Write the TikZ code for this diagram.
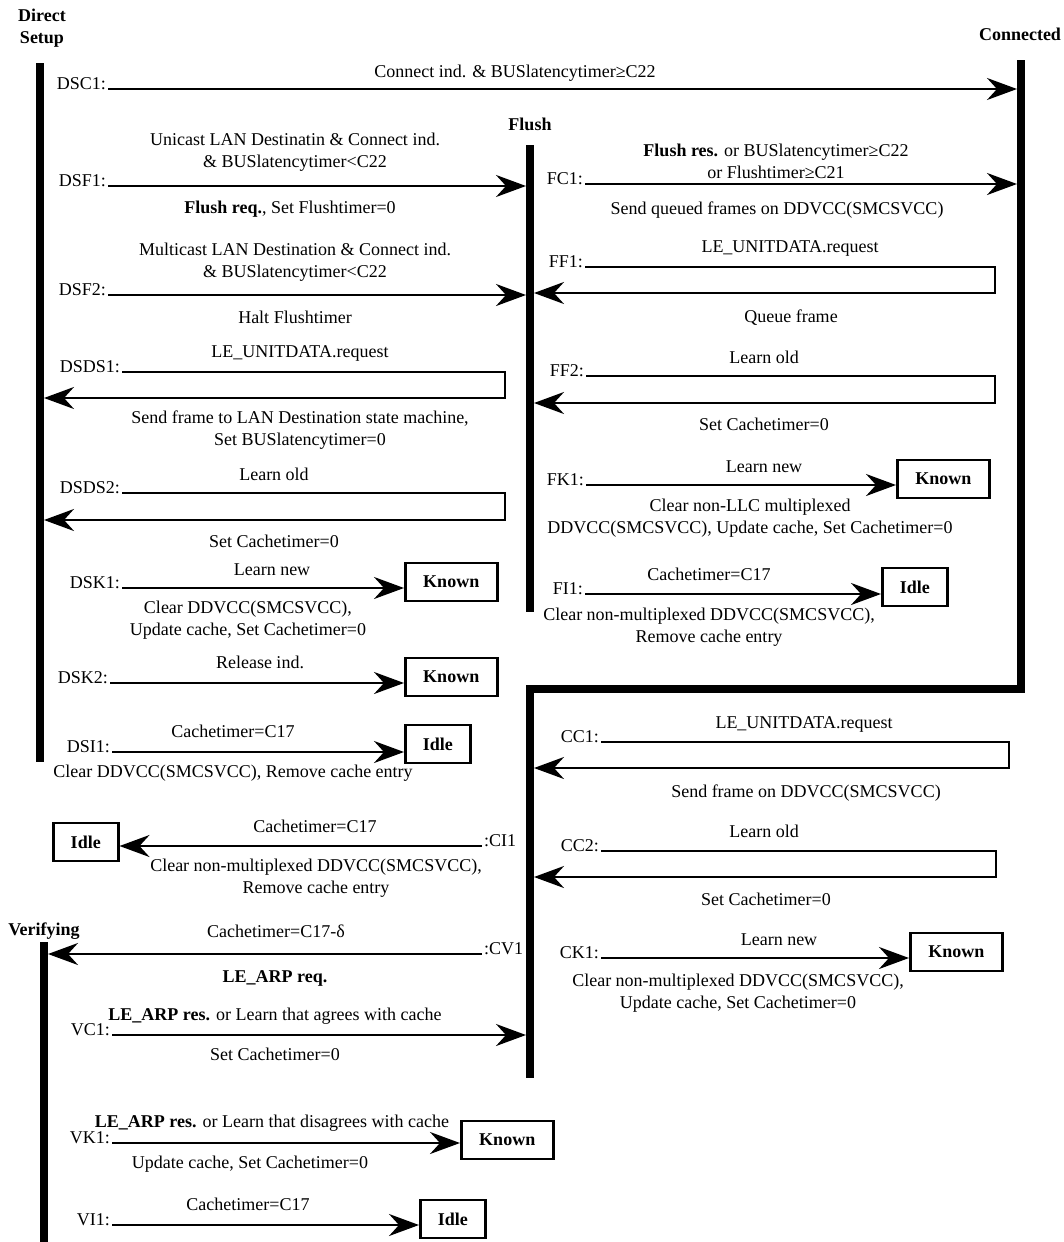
\documentclass[tikz,border=0pt]{standalone}
\usepackage{fontspec}
\setmainfont{Liberation Serif}
\usetikzlibrary{arrows.meta}

\newcommand\diagfont{\fontsize{18}{21.5}\selectfont}

\tikzset{
  statebar/.style={line width=8pt, line join=miter},
  trans/.style={line width=2.5pt, line join=miter, -{Stealth[length=30pt,width=22pt,inset=10pt]}},
  translbl/.style={anchor=base east, inner sep=2pt},
  endlbl/.style={anchor=base west, inner sep=2pt},
  note/.style={anchor=base, align=center, inner sep=0pt},
  statename/.style={font=\diagfont\bfseries, anchor=base, align=center, inner sep=0pt},
  known/.style={draw, line width=2.5pt, font=\diagfont\bfseries, minimum width=92pt, minimum height=38pt, anchor=west},
  idle/.style={draw, line width=2.5pt, font=\diagfont\bfseries, minimum width=65pt, minimum height=38pt, anchor=west}
}

\begin{document}
\begin{tikzpicture}[x=1pt, y=-1pt, font=\diagfont]%
\useasboundingbox (0,0) rectangle (1064,1242);%
% state bars
\coordinate (dsTop) at (40,63);%
\coordinate (dsBot) at (40,762);%
\coordinate (cnTop) at (1021,60);%
\coordinate (cnBend) at (1021,689);%
\coordinate (ccBend) at (530,689);%
\coordinate (ccBot) at (530,1078);%
\coordinate (flTop) at (530,145);%
\coordinate (flBot) at (530,612);%
\coordinate (vfTop) at (44,942);%
\coordinate (vfBot) at (44,1242);%
\draw[statebar] (dsTop) -- (dsBot);%
\draw[statebar] (cnTop) -- (cnBend) -- (ccBend) -- (ccBot);%
\draw[statebar] (flTop) -- (flBot);%
\draw[statebar] (vfTop) -- (vfBot);%
% bar edges where arrows end
\coordinate (dsEdge) at (44,0);%
\coordinate (cnEdge) at (1017,0);%
\coordinate (flEdgeL) at (526,0);%
\coordinate (flEdgeR) at (534,0);%
\coordinate (vfEdge) at (48,0);%
\node[statename] (dsName) at (42,43) {Direct\\Setup};%
\node[statename] (cnName) at (1020,40) {Connected};%
\node[statename] (flName) at (530,130) {Flush};%
\node[statename] (vfName) at (44,935) {Verifying};%
% Direct Setup
\node[translbl] (dsc1) at (108,89) {DSC1:};%
\draw[trans] (dsc1.base east) -- (dsc1.base east -| cnEdge);%
\node[note] at (515,77) {Connect ind. \& BUSlatencytimer≥C22};%
\node[translbl] (dsf1) at (108,186) {DSF1:};%
\draw[trans] (dsf1.base east) -- (dsf1.base east -| flEdgeL);%
\node[note] at (295,167) {Unicast LAN Destinatin \& Connect ind.\\\& BUSlatencytimer<C22};%
\node[note] at (290,213) {\textbf{Flush req.}, Set Flushtimer=0};%
\node[translbl] (dsf2) at (108,295) {DSF2:};%
\draw[trans] (dsf2.base east) -- (dsf2.base east -| flEdgeL);%
\node[note] at (295,277) {Multicast LAN Destination \& Connect ind.\\\& BUSlatencytimer<C22};%
\node[note] at (295,323) {Halt Flushtimer};%
\node[translbl] (dsds1) at (122,372) {DSDS1:};%
\coordinate (dsds1Turn) at (505,372);%
\coordinate (dsds1Back) at (505,398);%
\draw[trans] (dsds1.base east) -- (dsds1Turn) -- (dsds1Back) -- (dsds1Back -| dsEdge);%
\node[note] at (300,357) {LE\_UNITDATA.request};%
\node[note] at (300,445) {Send frame to LAN Destination state machine,\\Set BUSlatencytimer=0};%
\node[translbl] (dsds2) at (122,493) {DSDS2:};%
\coordinate (dsds2Turn) at (505,493);%
\coordinate (dsds2Back) at (505,520);%
\draw[trans] (dsds2.base east) -- (dsds2Turn) -- (dsds2Back) -- (dsds2Back -| dsEdge);%
\node[note] at (274,480) {Learn old};%
\node[note] at (274,547) {Set Cachetimer=0};%
\node[translbl] (dsk1) at (122,588) {DSK1:};%
\node[known] (dsk1Known) at (404,582) {Known};%
\draw[trans] (dsk1.base east) -- (dsk1.base east -| dsk1Known.west);%
\node[note] at (272,575) {Learn new};%
\node[note] at (248,635) {Clear DDVCC(SMCSVCC),\\Update cache, Set Cachetimer=0};%
\node[translbl] (dsk2) at (110,683) {DSK2:};%
\node[known] (dsk2Known) at (404,677) {Known};%
\draw[trans] (dsk2.base east) -- (dsk2.base east -| dsk2Known.west);%
\node[note] at (260,668) {Release ind.};%
\node[translbl] (dsi1) at (112,752) {DSI1:};%
\node[idle] (dsi1Idle) at (404,744) {Idle};%
\draw[trans] (dsi1.base east) -- (dsi1.base east -| dsi1Idle.west);%
\node[note] at (233,737) {Cachetimer=C17};%
\node[note] at (233,777) {Clear DDVCC(SMCSVCC), Remove cache entry};%
% Flush
\node[translbl] (fc1) at (585,184) {FC1:};%
\draw[trans] (fc1.base east) -- (fc1.base east -| cnEdge);%
\node[note] at (776,178) {\textbf{Flush res.} or BUSlatencytimer≥C22\\or Flushtimer≥C21};%
\node[note] at (777,214) {Send queued frames on DDVCC(SMCSVCC)};%
\node[translbl] (ff1) at (585,267) {FF1:};%
\coordinate (ff1Turn) at (995,267);%
\coordinate (ff1Back) at (995,293);%
\draw[trans] (ff1.base east) -- (ff1Turn) -- (ff1Back) -- (ff1Back -| flEdgeR);%
\node[note] at (790,252) {LE\_UNITDATA.request};%
\node[note] at (791,322) {Queue frame};%
\node[translbl] (ff2) at (586,376) {FF2:};%
\coordinate (ff2Turn) at (995,376);%
\coordinate (ff2Back) at (995,403);%
\draw[trans] (ff2.base east) -- (ff2Turn) -- (ff2Back) -- (ff2Back -| flEdgeR);%
\node[note] at (764,363) {Learn old};%
\node[note] at (764,430) {Set Cachetimer=0};%
\node[translbl] (fk1) at (586,485) {FK1:};%
\node[known] (fk1Known) at (896,479) {Known};%
\draw[trans] (fk1.base east) -- (fk1.base east -| fk1Known.west);%
\node[note] at (764,472) {Learn new};%
\node[note] at (750,533) {Clear non-LLC multiplexed\\DDVCC(SMCSVCC), Update cache, Set Cachetimer=0};%
\node[translbl] (fi1) at (585,594) {FI1:};%
\node[idle] (fi1Idle) at (881,587) {Idle};%
\draw[trans] (fi1.base east) -- (fi1.base east -| fi1Idle.west);%
\node[note] at (709,580) {Cachetimer=C17};%
\node[note] at (709,642) {Clear non-multiplexed DDVCC(SMCSVCC),\\Remove cache entry};%
% Connected
\node[translbl] (cc1) at (601,742) {CC1:};%
\coordinate (cc1Turn) at (1009,742);%
\coordinate (cc1Back) at (1009,768);%
\draw[trans] (cc1.base east) -- (cc1Turn) -- (cc1Back) -- (cc1Back -| flEdgeR);%
\node[note] at (804,728) {LE\_UNITDATA.request};%
\node[note] at (806,797) {Send frame on DDVCC(SMCSVCC)};%
\node[endlbl] (ci1) at (482,846) {:CI1};%
\node[idle] (ci1Idle) at (52,842) {Idle};%
\draw[trans] (ci1.base west) -- (ci1.base west -| ci1Idle.east);%
\node[note] at (315,832) {Cachetimer=C17};%
\node[note] at (316,893) {Clear non-multiplexed DDVCC(SMCSVCC),\\Remove cache entry};%
\node[translbl] (cc2) at (601,851) {CC2:};%
\coordinate (cc2Turn) at (996,851);%
\coordinate (cc2Back) at (996,877);%
\draw[trans] (cc2.base east) -- (cc2Turn) -- (cc2Back) -- (cc2Back -| flEdgeR);%
\node[note] at (764,837) {Learn old};%
\node[note] at (766,905) {Set Cachetimer=0};%
\node[endlbl] (cv1) at (482,954) {:CV1};%
\draw[trans] (cv1.base west) -- (cv1.base west -| vfEdge);%
\node[note] at (276,937) {Cachetimer=C17-δ};%
\node[note] at (275,982) {\textbf{LE\_ARP req.}};%
\node[translbl] (ck1) at (601,958) {CK1:};%
\node[known] (ck1Known) at (909,952) {Known};%
\draw[trans] (ck1.base east) -- (ck1.base east -| ck1Known.west);%
\node[note] at (779,945) {Learn new};%
\node[note] at (738,1008) {Clear non-multiplexed DDVCC(SMCSVCC),\\Update cache, Set Cachetimer=0};%
% Verifying
\node[translbl] (vc1) at (112,1035) {VC1:};%
\draw[trans] (vc1.base east) -- (vc1.base east -| flEdgeL);%
\node[note] at (275,1020) {\textbf{LE\_ARP res.} or Learn that agrees with cache};%
\node[note] at (275,1060) {Set Cachetimer=0};%
\node[translbl] (vk1) at (112,1143) {VK1:};%
\node[known] (vk1Known) at (460,1140) {Known};%
\draw[trans] (vk1.base east) -- (vk1.base east -| vk1Known.west);%
\node[note] at (272,1127) {\textbf{LE\_ARP res.} or Learn that disagrees with cache};%
\node[note] at (250,1168) {Update cache, Set Cachetimer=0};%
\node[translbl] (vi1) at (112,1225) {VI1:};%
\node[idle] (vi1Idle) at (419,1219) {Idle};%
\draw[trans] (vi1.base east) -- (vi1.base east -| vi1Idle.west);%
\node[note] at (248,1210) {Cachetimer=C17};%
\end{tikzpicture}
\end{document}
